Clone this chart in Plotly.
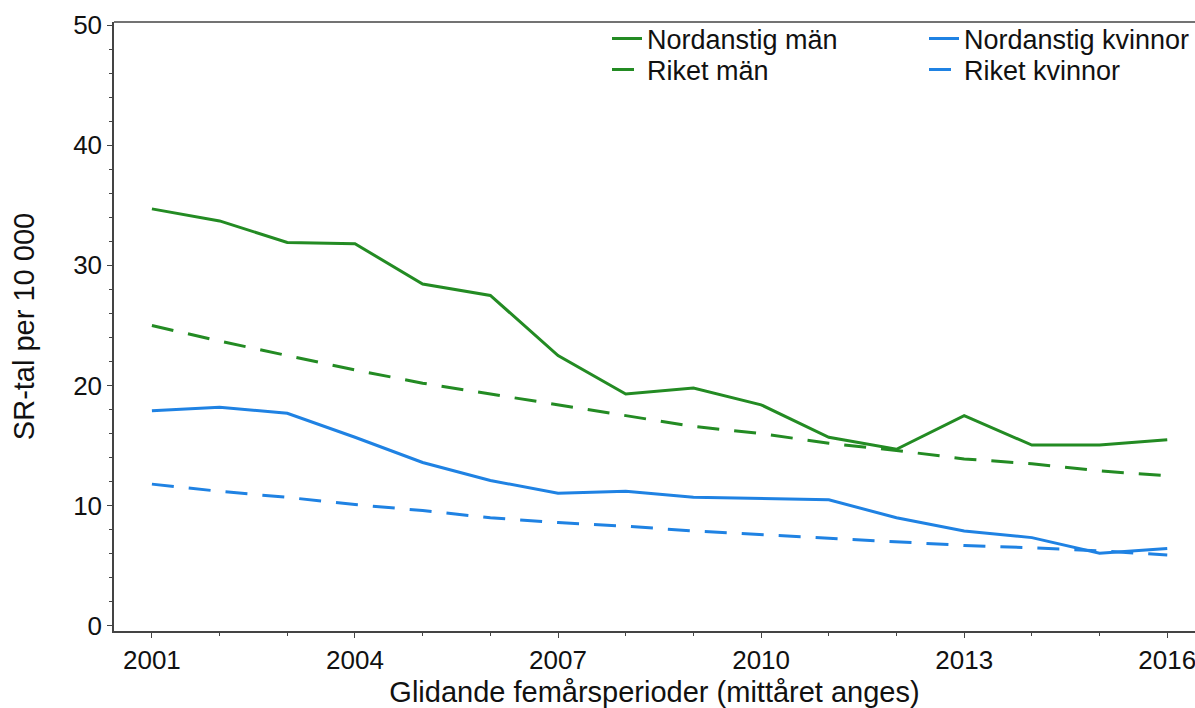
import plotly.graph_objects as go

years = list(range(2001, 2017))
nordanstig_man = [34.7, 33.7, 31.9, 31.8, 28.45, 27.5, 22.5, 19.3, 19.8, 18.4, 15.7, 14.7, 17.5, 15.05, 15.05, 15.5]
riket_man = [25.0, 23.7, 22.5, 21.3, 20.2, 19.3, 18.4, 17.5, 16.6, 16.0, 15.2, 14.6, 13.9, 13.5, 12.9, 12.5]
nordanstig_kvinnor = [17.9, 18.2, 17.7, 15.7, 13.6, 12.1, 11.05, 11.2, 10.7, 10.6, 10.5, 9.0, 7.9, 7.35, 6.05, 6.45]
riket_kvinnor = [11.8, 11.2, 10.7, 10.1, 9.6, 9.0, 8.6, 8.3, 7.9, 7.6, 7.3, 6.95, 6.7, 6.5, 6.25, 5.9]

x_tickvals = [2001, 2004, 2007, 2010, 2013, 2016]
y_tickvals = [0, 10, 20, 30, 40, 50]

GREEN = "#238b23"
BLUE = "#1f82e3"
FONT = "Liberation Sans, Arial, sans-serif"
DASH = "22px,15px"
W, H = 1195, 708
ML, MR, MT, MB = 114, 0, 22, 77
PW, PH = W - ML - MR, H - MT - MB


def px_x(p):
    return (p - ML) / PW


def px_y(p):
    return (H - MB - p) / PH


fig = go.Figure()
fig.add_trace(go.Scatter(x=years, y=nordanstig_man, mode="lines", name="Nordanstig män",
                         line=dict(color=GREEN, width=3), legend="legend"))
fig.add_trace(go.Scatter(x=years, y=nordanstig_kvinnor, mode="lines", name="Nordanstig kvinnor",
                         line=dict(color=BLUE, width=3), legend="legend2"))
fig.add_trace(go.Scatter(x=years, y=riket_man, mode="lines", name="Riket män",
                         line=dict(color=GREEN, width=3, dash=DASH), legend="legend3"))
fig.add_trace(go.Scatter(x=years, y=riket_kvinnor, mode="lines", name="Riket kvinnor",
                         line=dict(color=BLUE, width=3, dash=DASH), legend="legend4"))

leg_common = dict(xanchor="left", yanchor="middle", font=dict(size=27, color="#111"),
                  bgcolor="rgba(0,0,0,0)", borderwidth=0)
col1, col2 = 607, 924
row1, row2 = 39, 70

fig.update_layout(
    width=W, height=H,
    margin=dict(l=ML, r=MR, t=MT, b=MB),
    paper_bgcolor="white", plot_bgcolor="white",
    font=dict(family=FONT, size=26, color="#111"),
    showlegend=True,
    legend=dict(x=px_x(col1), y=px_y(row1), **leg_common),
    legend2=dict(x=px_x(col2), y=px_y(row1), **leg_common),
    legend3=dict(x=px_x(col1), y=px_y(row2), **leg_common),
    legend4=dict(x=px_x(col2), y=px_y(row2), **leg_common),
    xaxis=dict(range=[2000.44, 2016.41], tickvals=x_tickvals, ticks="outside", ticklen=5,
               tickcolor="#444", showline=True, linecolor="#444", linewidth=1.5,
               showgrid=False, zeroline=False, mirror=False, automargin=False,
               tickfont=dict(size=26), ticklabeloverflow="allow",
               minor=dict(dtick=1, tick0=2001, ticks="outside", ticklen=3, tickcolor="#444"),
               title=dict(text="Glidande femårsperioder (mittåret anges)", font=dict(size=29), standoff=9)),
    yaxis=dict(range=[-0.42, 50.25], tickvals=y_tickvals, ticks="outside", ticklen=5,
               tickcolor="#444", showline=True, linecolor="#444", linewidth=1.5,
               showgrid=False, zeroline=False, automargin=False,
               tickfont=dict(size=26), ticklabeloverflow="allow",
               minor=dict(dtick=2, tick0=0, ticks="outside", ticklen=3, tickcolor="#444"),
               title=dict(text="SR-tal per 10 000", font=dict(size=29), standoff=30)),
)
fig.add_shape(type="line", xref="paper", yref="paper", x0=0, x1=1, y0=1, y1=1,
              line=dict(color="#444", width=1.5))

fig.write_html("out.html", config={"displayModeBar": False},
               post_script="document.body.style.margin='0';document.body.style.overflow='hidden';")
